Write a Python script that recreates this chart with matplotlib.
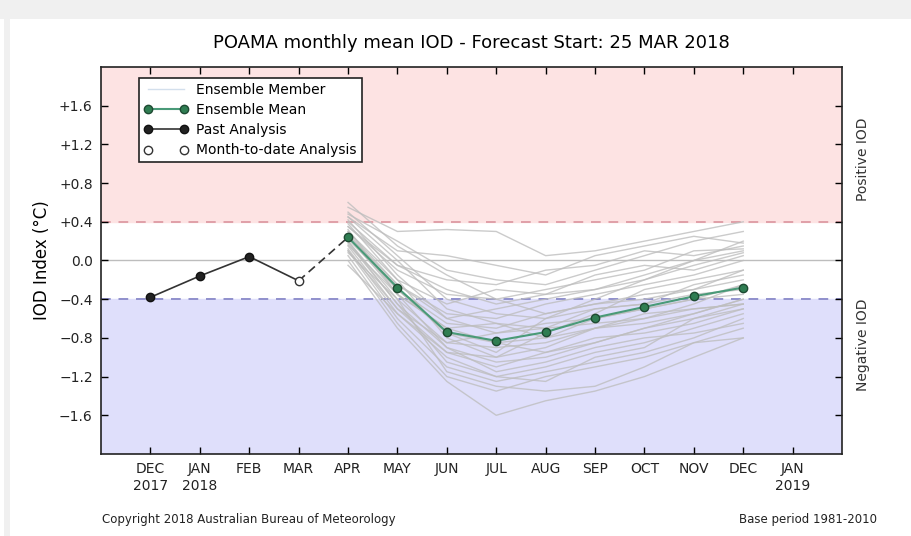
import matplotlib
matplotlib.use("Agg")
import matplotlib.pyplot as plt
from matplotlib.patches import Rectangle

# months on the x axis, Dec 2017 .. Jan 2019
month_labels = ["DEC\n2017", "JAN\n2018", "FEB", "MAR", "APR", "MAY", "JUN",
                "JUL", "AUG", "SEP", "OCT", "NOV", "DEC", "JAN\n2019"]

# observed
past_months = [0, 1, 2]
past_values = [-0.38, -0.16, 0.04]
mtd_month = 3
mtd_value = -0.21

# forecast (APR .. DEC)
fc_months = [4, 5, 6, 7, 8, 9, 10, 11, 12]
ens_mean = [0.24, -0.28, -0.74, -0.83, -0.74, -0.59, -0.48, -0.37, -0.28]

ens_members = [
    [0.55, 0.30, 0.32, 0.30, 0.05, 0.10, 0.20, 0.30, 0.40],
    [0.45, 0.10, 0.05, -0.05, -0.15, 0.05, 0.15, 0.25, 0.18],
    [0.40, -0.05, -0.20, -0.25, -0.10, -0.05, 0.10, 0.05, 0.15],
    [0.35, -0.10, -0.35, -0.40, -0.30, -0.20, -0.10, 0.10, 0.12],
    [0.30, -0.20, -0.45, -0.30, -0.35, -0.15, -0.05, -0.10, 0.05],
    [0.30, -0.25, -0.55, -0.60, -0.45, -0.35, -0.25, -0.15, 0.00],
    [0.28, -0.30, -0.65, -0.70, -0.55, -0.45, -0.40, -0.30, -0.10],
    [0.25, -0.35, -0.70, -0.85, -0.80, -0.60, -0.50, -0.40, -0.25],
    [0.22, -0.30, -0.75, -0.95, -0.60, -0.40, -0.20, 0.00, 0.10],
    [0.20, -0.40, -0.85, -0.90, -0.85, -0.70, -0.65, -0.55, -0.40],
    [0.18, -0.45, -0.90, -1.05, -1.00, -0.85, -0.70, -0.60, -0.45],
    [0.15, -0.50, -0.95, -1.10, -0.95, -0.80, -0.75, -0.65, -0.50],
    [0.12, -0.55, -1.00, -1.20, -1.10, -0.95, -0.85, -0.70, -0.55],
    [0.10, -0.60, -1.10, -1.25, -1.15, -1.05, -0.95, -0.80, -0.60],
    [0.05, -0.65, -1.20, -1.35, -1.20, -1.10, -1.00, -0.85, -0.70],
    [0.00, -0.70, -1.25, -1.60, -1.45, -1.35, -1.20, -1.00, -0.80],
    [0.60, 0.15, -0.15, -0.40, -0.55, -0.45, -0.35, -0.30, -0.20],
    [0.50, 0.05, -0.40, -0.55, -0.60, -0.50, -0.45, -0.35, -0.30],
    [0.42, -0.15, -0.60, -0.75, -0.70, -0.65, -0.60, -0.50, -0.45],
    [0.38, -0.20, -0.80, -1.00, -0.75, -0.55, -0.30, -0.20, -0.10],
    [0.32, -0.35, -0.90, -1.15, -1.05, -0.90, -0.80, -0.75, -0.65],
    [0.26, -0.25, -0.60, -0.50, -0.40, -0.30, -0.20, -0.05, 0.08],
    [0.20, -0.45, -1.05, -1.20, -1.25, -1.00, -0.90, -0.60, -0.50],
    [0.16, -0.35, -0.70, -0.65, -0.70, -0.50, -0.45, -0.25, -0.15],
    [0.10, -0.50, -0.85, -0.75, -0.65, -0.60, -0.50, -0.40, -0.35],
    [-0.05, -0.55, -0.95, -1.00, -0.90, -0.70, -0.55, -0.50, -0.45],
    [0.35, -0.05, -0.30, -0.45, -0.35, -0.30, -0.15, 0.00, 0.20],
    [0.08, -0.40, -1.15, -1.30, -1.35, -1.30, -1.10, -0.85, -0.80],
    [0.45, 0.00, -0.50, -0.65, -0.80, -0.70, -0.60, -0.45, -0.25],
    [0.24, -0.30, -0.75, -0.85, -0.95, -0.85, -0.70, -0.55, -0.40],
    [0.48, 0.20, -0.10, -0.20, -0.25, -0.10, 0.05, 0.20, 0.30],
]

y_ticks = [-1.6, -1.2, -0.8, -0.4, 0.0, 0.4, 0.8, 1.2, 1.6]
y_tick_labels = ["\u22121.6", "\u22121.2", "\u22120.8", "\u22120.4", "0.0",
                 "+0.4", "+0.8", "+1.2", "+1.6"]
threshold = 0.4

fig = plt.figure(figsize=(9.11, 5.36), dpi=100, facecolor="white")

# grey page border of the screenshot
fig.patches.append(Rectangle((0, 1 - 19 / 536), 1, 19 / 536, transform=fig.transFigure,
                             facecolor="#f0f0f0", edgecolor="none", zorder=0))
fig.patches.append(Rectangle((4 / 911, 0), 6 / 911, 1, transform=fig.transFigure,
                             facecolor="#f0f0f0", edgecolor="none", zorder=0))

ax = fig.add_axes([0.1109, 0.153, 0.8134, 0.722])

# IOD bands
ax.axhspan(threshold, 2.0, color="#fde3e3", zorder=0)
ax.axhspan(-2.0, -threshold, color="#dfdffb", zorder=0)
ax.axhline(threshold, color="#e0a0a8", ls=(0, (5, 4)), lw=1.4, zorder=1)
ax.axhline(-threshold, color="#9090cc", ls=(0, (5, 4)), lw=1.4, zorder=1)
ax.axhline(0, color="#bdbdbd", lw=1, zorder=1)

for i, member in enumerate(ens_members):
    ax.plot(fc_months, member, color="#bebebe", lw=1, alpha=0.8, zorder=2,
            label="Ensemble Member" if i == 0 else None)

ax.plot(fc_months, ens_mean, color="#4a9a78", lw=1.5, marker="o", ms=6,
        mfc="#2f7d52", mec="#1e4a32", zorder=4, label="Ensemble Mean")
ax.plot(past_months, past_values, color="#333333", lw=1.2, marker="o", ms=6,
        mfc="#222222", mec="#111111", zorder=4, label="Past Analysis")
ax.plot([past_months[-1], mtd_month], [past_values[-1], mtd_value],
        color="#333333", lw=1.2, zorder=3)
ax.plot([mtd_month, fc_months[0]], [mtd_value, ens_mean[0]],
        color="#333333", lw=1.2, ls=(0, (5, 3)), zorder=3)
ax.plot([mtd_month], [mtd_value], ls="none", marker="o", ms=6,
        mfc="white", mec="#333333", zorder=5, label="Month-to-date Analysis")

ax.set_xlim(-1, 14)
ax.set_ylim(-2, 2)
ax.set_xticks(range(len(month_labels)))
ax.set_xticklabels(month_labels, fontsize=10, color="#222222")
ax.set_yticks(y_ticks)
ax.set_yticklabels(y_tick_labels, fontsize=10, color="#222222")
ax.tick_params(direction="in", top=True, right=True, length=5, width=1, pad=6)
for s in ax.spines.values():
    s.set_linewidth(1.2)
    s.set_color("#222222")

ax.set_ylabel("IOD Index (\u00b0C)", fontsize=12, labelpad=6)
ax.set_title("POAMA monthly mean IOD - Forecast Start: 25 MAR 2018", fontsize=13, pad=14)

leg = ax.legend(loc="upper left", bbox_to_anchor=(0.051, 0.972), borderaxespad=0,
                fontsize=10, numpoints=2, handlelength=3.2, fancybox=False,
                framealpha=1, edgecolor="#222222", borderpad=0.35,
                labelspacing=0.45, handletextpad=0.6)
leg.get_frame().set_linewidth(1.2)
leg.legend_handles[0].set_color("#c8d8e8")

ax.text(1.028, 1.05, "Positive IOD", transform=ax.get_yaxis_transform(),
        rotation=90, ha="center", va="center", fontsize=10, color="#333333")
ax.text(1.028, -0.87, "Negative IOD", transform=ax.get_yaxis_transform(),
        rotation=90, ha="center", va="center", fontsize=10, color="#333333")

fig.text(102 / 911, 1 - 520 / 536, "Copyright 2018 Australian Bureau of Meteorology",
         fontsize=8.5, ha="left", va="center", color="#222222")
fig.text(877 / 911, 1 - 520 / 536, "Base period 1981-2010",
         fontsize=8.5, ha="right", va="center", color="#222222")

plt.savefig("out.png", dpi=100)
